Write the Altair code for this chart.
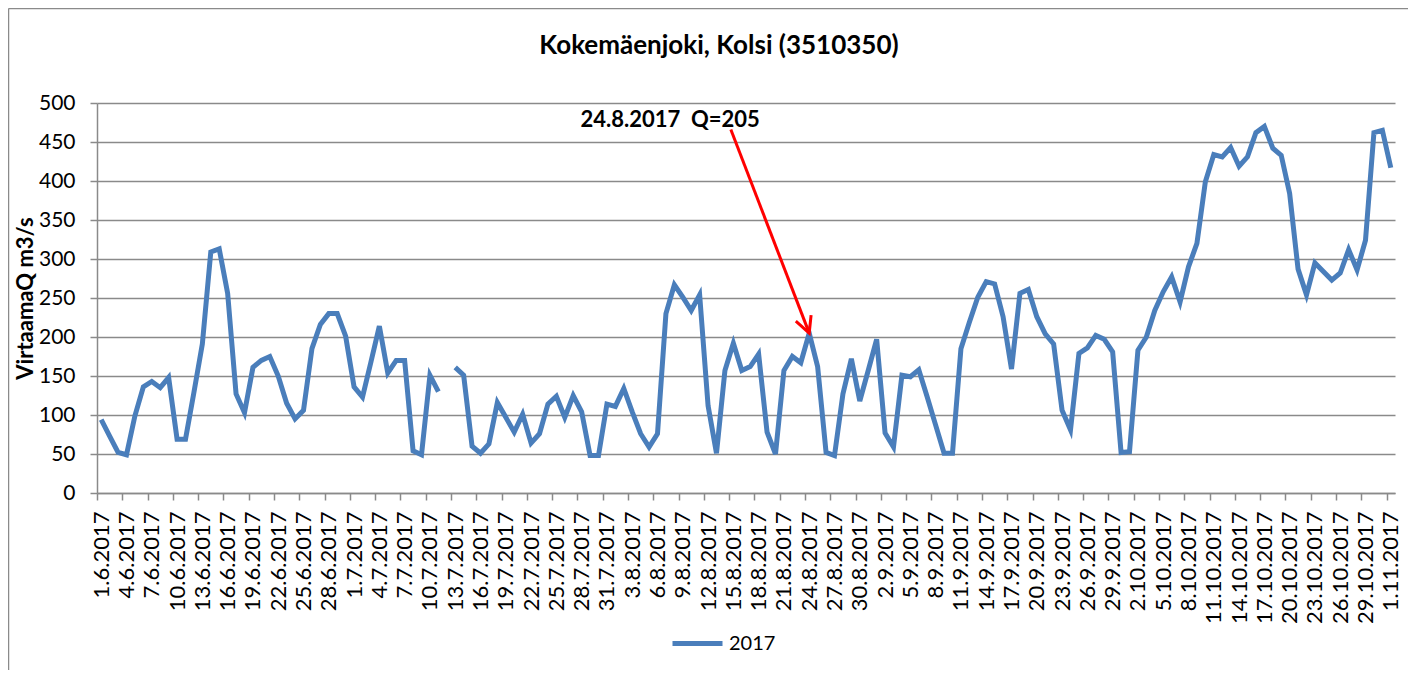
import json
import pandas as pd
import altair as alt

# ---------------- data ----------------
dates = [f"{d.day}.{d.month}.{d.year}" for d in pd.date_range("2017-06-01", "2017-11-01", freq="D")]

flow = [
    94, 73, 52, 49, 99, 136, 143, 135, 148, 69,          # 1.6 - 10.6
    69, 129, 191, 309, 313, 256, 127, 103, 161, 170,     # 11.6 - 20.6
    175, 150, 115, 95, 106, 185, 216, 230, 230, 201,     # 21.6 - 30.6
    136, 123, 168, 214, 154, 170, 170, 54, 49, 151,      # 1.7 - 10.7
    130, None, 161, 151, 60, 51, 63, 116, 97, 78,        # 11.7 - 20.7
    101, 64, 76, 114, 124, 97, 125, 104, 48, 48,         # 21.7 - 30.7
    114,                                                 # 31.7
    111, 134, 104, 76, 59, 76, 230, 267, 251, 234,       # 1.8 - 10.8
    254, 112, 51, 157, 192, 157, 162, 178, 78, 50,       # 11.8 - 20.8
    157, 175, 167, 205, 162, 52, 48, 127, 172, 118,      # 21.8 - 30.8
    157,                                                 # 31.8
    197, 77, 59, 151, 149, 158, 123, 87, 51, 51,         # 1.9 - 10.9
    185, 219, 251, 271, 268, 226, 159, 256, 261, 226,    # 11.9 - 20.9
    204, 191, 106, 81, 179, 186, 202, 197, 181, 52,      # 21.9 - 30.9
    53, 183, 200, 234, 258, 277, 245, 290, 320, 399,     # 1.10 - 10.10
    434, 431, 443, 419, 431, 462, 470, 442, 433, 384,    # 11.10 - 20.10
    287, 254, 295, 284, 273, 282, 312, 286, 324, 462,    # 21.10 - 30.10
    465,                                                 # 31.10
    417,                                                 # 1.11
]

series_name = "2017"
title_text = "Kokemäenjoki, Kolsi (3510350)"
y_title = "VirtaamaQ m3/s"
y_ticks = list(range(0, 501, 50))

ann_date = "24.8.2017"
ann_q = 205
ann_label = f"{ann_date}\u00a0 Q={ann_q}"
ann_text_pos = [67.5, 478]      # label anchor (day index, flow)
ann_arrow_start = [74.7, 466]   # arrow tail (day index, flow)

# ---------------- tables ----------------
seg, s = [], 0
for v in flow:
    if v is None:
        s += 1
    seg.append(s)

df = pd.DataFrame({
    "i": list(range(len(dates))),
    "date": dates,
    "flow": flow,
    "seg": seg,
    "series": series_name,
}).dropna()

ann_idx = dates.index(ann_date)
ann = pd.DataFrame({
    "x0": [ann_arrow_start[0]], "y0": [ann_arrow_start[1]],
    "x1": [ann_idx], "y1": [ann_q],
    "tx": [ann_text_pos[0]], "ty": [ann_text_pos[1]],
    "label": [ann_label],
})
title_df = pd.DataFrame({"t": [title_text]})

# ---------------- style ----------------
W, H = 1298, 390
BLUE = "#4A7EBB"
GRID = "#8A8A8A"
FONT = "Lato"

label_vals = list(range(0, len(dates), 3))
tick_vals = [v - 0.5 for v in label_vals]
label_expr = json.dumps(dates[::3]) + "[round(datum.value / 3)]"

x_scale = alt.Scale(domain=[-0.5, len(dates) - 0.5], nice=False, zero=False)
y_scale = alt.Scale(domain=[0, 500], nice=False)

y_axis = alt.Axis(
    values=y_ticks, title=y_title, grid=True, gridColor=GRID, gridWidth=1.5,
    domain=True, domainColor=GRID, domainWidth=1.5,
    ticks=True, tickSize=7, tickColor=GRID, tickWidth=1.5,
    labelPadding=15, labelFontSize=21, labelFont=FONT, labelColor="black",
    titleFont=FONT, titleFontSize=22, titleFontWeight="bold", titleColor="black",
    titleAngle=270, titleAlign="center", titleBaseline="middle",
    titleX=-72, titleY=H / 2)

line = alt.Chart(df).mark_line(strokeWidth=5).encode(
    x=alt.X("i:Q", scale=x_scale, axis=alt.Axis(
        orient="bottom", values=label_vals, labelExpr=label_expr,
        ticks=False, tickSize=0, grid=False, domain=True,
        domainColor=GRID, domainWidth=1.5,
        labelAngle=270, labelAlign="right", labelBaseline="middle",
        labelPadding=18, labelFontSize=22, labelFont=FONT, labelColor="black",
        labelOverlap=False, labelFlush=False, title=None)),
    y=alt.Y("flow:Q", scale=y_scale, axis=y_axis),
    color=alt.Color("series:N", scale=alt.Scale(range=[BLUE]), legend=alt.Legend(
        title=None, orient="none", legendX=573, legendY=513,
        symbolType="stroke", symbolSize=2500, symbolStrokeWidth=5,
        labelFontSize=20, labelFont=FONT, labelColor="black", labelOffset=4)),
    detail="seg:N",
)

arrow = alt.Chart(ann).mark_rule(color="red", strokeWidth=3).encode(
    x=alt.X("x0:Q", scale=x_scale, axis=alt.Axis(
        orient="bottom", values=tick_vals, labels=False, ticks=True, tickSize=7,
        tickColor=GRID, tickWidth=1.5, domain=False, grid=False, title=None)),
    y=alt.Y("y0:Q", scale=y_scale, axis=y_axis),
    x2="x1:Q",
    y2="y1:Q",
)

head = alt.Chart(ann).mark_point(
    shape="M-0.454,-0.891L0,0L0.454,-0.891", size=1296, filled=False,
    stroke="red", strokeWidth=3, opacity=1, angle=339,
).encode(
    x=alt.X("x1:Q", scale=x_scale, axis=None),
    y=alt.Y("y1:Q", scale=y_scale, axis=y_axis),
)

label = alt.Chart(ann).mark_text(
    font=FONT, fontSize=22, fontWeight="bold", color="black",
    align="center", baseline="middle",
).encode(
    x=alt.X("tx:Q", scale=x_scale, axis=None),
    y=alt.Y("ty:Q", scale=y_scale, axis=y_axis),
    text="label:N",
)

title = alt.Chart(title_df).mark_text(
    font=FONT, fontSize=26, fontWeight="bold", color="black",
    align="center", baseline="middle",
).encode(x=alt.value(622), y=alt.value(-57), text="t:N")

frame_left = alt.Chart(title_df).mark_rule(color=GRID, strokeWidth=1.5).encode(
    x=alt.value(-88.5), y=alt.value(-94.5), y2=alt.value(H + 200))
frame_top = alt.Chart(title_df).mark_rule(color=GRID, strokeWidth=1.5).encode(
    x=alt.value(-88.5), x2=alt.value(W + 40), y=alt.value(-94.5))

chart = alt.layer(frame_left, frame_top, title, line, arrow, head, label).resolve_axis(
    x="independent"
).properties(
    width=W, height=H,
    autosize=alt.AutoSizeParams(type="none"),
    padding={"left": 89, "top": 95, "right": 13, "bottom": 177},
    background="white",
).configure_view(strokeWidth=0)

chart.save("out.html", embed_options={"renderer": "svg", "actions": False})
